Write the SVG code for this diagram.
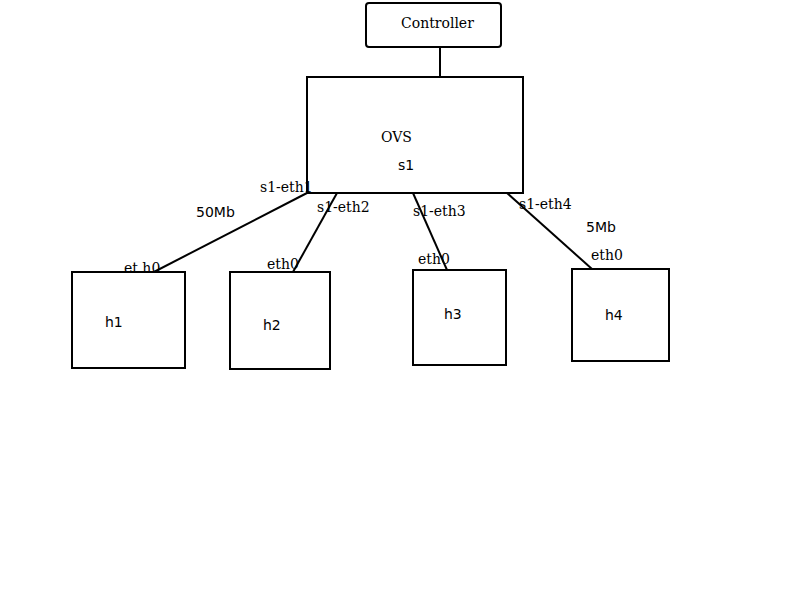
<svg xmlns="http://www.w3.org/2000/svg" width="800" height="600" viewBox="0 0 800 600">
  <style>
    .box { fill: #fff; stroke: #000; stroke-width: 2; }
    .link { stroke: #000; stroke-width: 2; fill: none; }
    .serif { font-family: "DejaVu Serif", "Liberation Serif", serif; font-size: 14px; fill: #000; }
    .sans { font-family: "DejaVu Sans", "Liberation Sans", sans-serif; font-size: 14px; fill: #000; }
  </style>
  <rect width="800" height="600" fill="#fff"/>

  <!-- links -->
  <g id="connectors">
    <line class="link" x1="440" y1="47" x2="440" y2="77"/>
    <line class="link" x1="307" y1="193" x2="150" y2="274"/>
    <line class="link" x1="337" y1="193" x2="293" y2="272"/>
    <line class="link" x1="413" y1="193" x2="447" y2="270"/>
    <line class="link" x1="507" y1="193" x2="592" y2="269"/>
  </g>

  <g id="controller">
    <rect class="box" x="366" y="3" width="135" height="44" rx="3"/>
    <text class="serif" x="401" y="28">Controller</text>
  </g>

  <g id="ovs">
    <rect class="box" x="307" y="77" width="216" height="116"/>
    <text class="serif" x="381" y="142">OVS</text>
    <text class="sans" x="398" y="170">s1</text>
  </g>

  <g id="h1">
    <rect class="box" x="72" y="272" width="113" height="96"/>
    <text class="sans" x="105" y="327">h1</text>
  </g>
  <g id="h2">
    <rect class="box" x="230" y="272" width="100" height="97"/>
    <text class="sans" x="263" y="330">h2</text>
  </g>
  <g id="h3">
    <rect class="box" x="413" y="270" width="93" height="95"/>
    <text class="sans" x="444" y="319">h3</text>
  </g>
  <g id="h4">
    <rect class="box" x="572" y="269" width="97" height="92"/>
    <text class="sans" x="605" y="320">h4</text>
  </g>

  <!-- port and bandwidth labels -->
  <g id="labels">
    <text class="serif" x="260" y="192">s1-eth1</text>
    <text class="sans" x="196" y="217">50Mb</text>
    <text class="serif" x="124" y="273">et h0</text>
    <text class="serif" x="317" y="212">s1-eth2</text>
    <text class="serif" x="267" y="269">eth0</text>
    <text class="serif" x="413" y="216">s1-eth3</text>
    <text class="serif" x="418" y="264">eth0</text>
    <text class="serif" x="519" y="209">s1-eth4</text>
    <text class="sans" x="586" y="232">5Mb</text>
    <text class="serif" x="591" y="260">eth0</text>
  </g>
</svg>
